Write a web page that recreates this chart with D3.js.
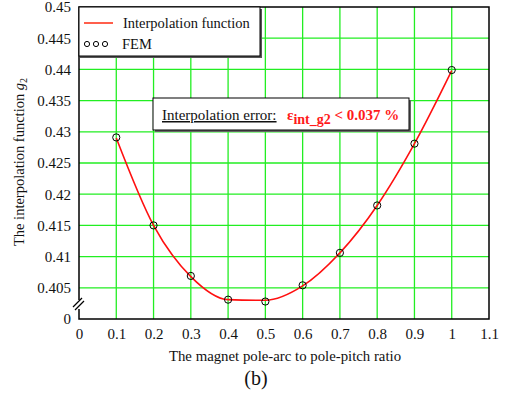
<!DOCTYPE html>
<html>
<head>
<meta charset="utf-8">
<script src="https://cdn.jsdelivr.net/npm/d3@7"></script>
<style>
  body { margin: 0; background: #fff; }
  text { font-family: "Liberation Serif", "Times New Roman", serif; }
</style>
</head>
<body>
<svg id="chart" width="512" height="399"></svg>
<script>
// pole-arc to pole-pitch ratio
const ratios = [0.1, 0.2, 0.3, 0.4, 0.5, 0.6, 0.7, 0.8, 0.9, 1.0];
// FEM results for g2
const femValues = [0.4291, 0.4150, 0.4069, 0.4031, 0.4028, 0.4054, 0.4106, 0.4182, 0.4281, 0.4399];
// interpolation function at the same ratios
const interpValues = [0.4290, 0.4150, 0.4068, 0.4031, 0.4030, 0.4053, 0.4106, 0.4182, 0.4281, 0.4398];
const xTicks = [0, 0.1, 0.2, 0.3, 0.4, 0.5, 0.6, 0.7, 0.8, 0.9, 1, 1.1];
const yTicks = [0.4, 0.405, 0.41, 0.415, 0.42, 0.425, 0.43, 0.435, 0.44, 0.445, 0.45];

const svg = d3.select("#chart");
const pLeft = 79, pRight = 489, pTop = 7, pBottom = 319;

const x = d3.scaleLinear().domain([0, 1.1]).range([pLeft, pRight]);
const y = d3.scaleLinear().domain([0.4, 0.45]).range([pBottom, pTop]);

// grid
const grid = svg.append("g").attr("stroke", "#22ee22").attr("stroke-width", 1.3);
grid.selectAll(".gx")
    .data(xTicks.filter(d => d > 0 && d < 1.1))
    .enter().append("line")
    .attr("x1", d => x(d)).attr("x2", d => x(d))
    .attr("y1", pTop).attr("y2", pBottom);
grid.selectAll(".gy")
    .data(yTicks.filter(d => d > 0.4 && d < 0.45))
    .enter().append("line")
    .attr("y1", d => y(d)).attr("y2", d => y(d))
    .attr("x1", pLeft).attr("x2", pRight);

// frame
svg.append("rect")
    .attr("x", pLeft).attr("y", pTop)
    .attr("width", pRight - pLeft).attr("height", pBottom - pTop)
    .attr("fill", "none").attr("stroke", "#000").attr("stroke-width", 1.5);

// axes (labels only)
const fmtY = d => d === 0.4 ? "0" : d3.format("")(+d.toFixed(3));
const yAxis = svg.append("g")
    .attr("transform", `translate(${pLeft},0)`)
    .call(d3.axisLeft(y).tickValues(yTicks).tickSize(0).tickPadding(8).tickFormat(fmtY));
const xAxis = svg.append("g")
    .attr("transform", `translate(0,${pBottom})`)
    .call(d3.axisBottom(x).tickValues(xTicks).tickSize(0).tickPadding(9)
        .tickFormat(d => d3.format("")(+d.toFixed(1))));
[xAxis, yAxis].forEach(a => {
    a.select(".domain").remove();
    a.selectAll("text")
        .attr("fill", "#111")
        .style("font-size", "15px")
        .style("font-family", "'Liberation Serif', serif");
});

// axis break
svg.append("rect").attr("x", pLeft - 1).attr("y", 300).attr("width", 3).attr("height", 9).attr("fill", "#fff");
const brk = svg.append("g").attr("stroke", "#000").attr("stroke-width", 1.2);
brk.append("line").attr("x1", pLeft - 6).attr("y1", 307).attr("x2", pLeft + 3).attr("y2", 298);
brk.append("line").attr("x1", pLeft - 4).attr("y1", 310).attr("x2", pLeft + 5).attr("y2", 301);

// interpolation line
const line = d3.line()
    .x((d, i) => x(ratios[i]))
    .y(d => y(d))
    .curve(d3.curveMonotoneX);
svg.append("path")
    .datum(interpValues)
    .attr("d", line)
    .attr("fill", "none")
    .attr("stroke", "#ff1010")
    .attr("stroke-width", 1.6);

// FEM points
svg.selectAll(".fem")
    .data(femValues)
    .enter().append("circle")
    .attr("cx", (d, i) => x(ratios[i]))
    .attr("cy", d => y(d))
    .attr("r", 3.6)
    .attr("fill", "none")
    .attr("stroke", "#000")
    .attr("stroke-width", 1);

// legend
const lg = svg.append("g");
lg.append("rect").attr("x", 80).attr("y", 9).attr("width", 182).attr("height", 49).attr("fill", "#555");
lg.append("rect").attr("x", pLeft).attr("y", pTop).attr("width", 181).attr("height", 49)
    .attr("fill", "#fff").attr("stroke", "#000").attr("stroke-width", 1);
lg.append("line").attr("x1", 84).attr("x2", 113).attr("y1", 23).attr("y2", 23)
    .attr("stroke", "#ff2a10").attr("stroke-width", 1.5);
lg.append("text").attr("x", 123).attr("y", 28).style("font-size", "14.5px").attr("fill", "#111")
    .text("Interpolation function");
[87, 96, 105].forEach(cx => {
    lg.append("circle").attr("cx", cx).attr("cy", 44).attr("r", 2.6)
        .attr("fill", "none").attr("stroke", "#000").attr("stroke-width", 1);
});
lg.append("text").attr("x", 122).attr("y", 49).style("font-size", "14.5px").attr("fill", "#111")
    .text("FEM");

// annotation
const an = svg.append("g");
an.append("rect").attr("x", 155).attr("y", 100).attr("width", 256).attr("height", 32).attr("fill", "#666");
an.append("rect").attr("x", 153).attr("y", 98).attr("width", 256).attr("height", 32)
    .attr("fill", "#fff").attr("stroke", "#000").attr("stroke-width", 1);
an.append("text").attr("x", 162).attr("y", 120).style("font-size", "15px").attr("fill", "#111")
    .style("text-decoration", "underline")
    .text("Interpolation error:");
const err = an.append("text").attr("x", 287).attr("y", 120)
    .attr("fill", "#ff1a1a").style("font-weight", "bold").style("font-size", "15px");
err.append("tspan").text("ε");
err.append("tspan").attr("dy", 4).style("font-size", "14px").text("int_g2");
err.append("tspan").attr("dy", -4).text(" < 0.037 %");

// axis titles
svg.append("text")
    .attr("x", 285).attr("y", 361)
    .attr("text-anchor", "middle")
    .style("font-size", "14.8px").attr("fill", "#111")
    .text("The magnet pole-arc to pole-pitch ratio");
const yt = svg.append("text")
    .attr("transform", "translate(24,162) rotate(-90)")
    .attr("text-anchor", "middle")
    .style("font-size", "14.5px").attr("fill", "#111");
yt.append("tspan").text("The interpolation function   ");
yt.append("tspan").style("font-style", "italic").text("g");
yt.append("tspan").attr("dy", 3).style("font-size", "10px").text("2");

svg.append("text")
    .attr("x", 256).attr("y", 385)
    .attr("text-anchor", "middle")
    .style("font-size", "20px").attr("fill", "#111")
    .text("(b)");
</script>
</body>
</html>
